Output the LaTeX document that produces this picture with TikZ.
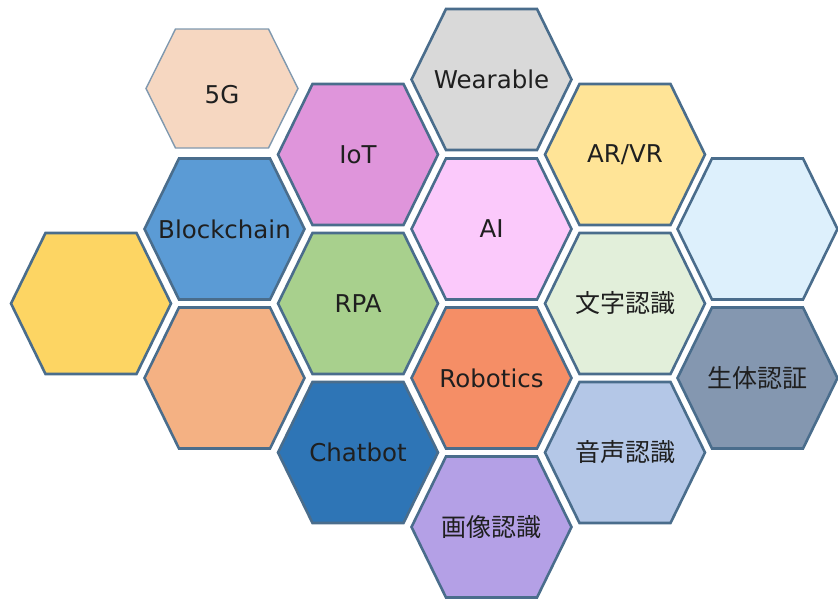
\documentclass[tikz,border=0pt]{standalone}
\usepackage{fontspec}
\setmainfont{DejaVu Sans}
\newfontfamily\jpfont{Noto Sans CJK JP}

\definecolor{hexline}{HTML}{4A6D8C}
\definecolor{fiveg}{HTML}{F6D7C1}
\definecolor{iot}{HTML}{DF95DB}
\definecolor{wear}{HTML}{D9D9D9}
\definecolor{arvr}{HTML}{FFE497}
\definecolor{skyblue}{HTML}{DDF0FC}
\definecolor{blockc}{HTML}{5B9BD5}
\definecolor{ai}{HTML}{FBC9FB}
\definecolor{sunny}{HTML}{FDD563}
\definecolor{rpa}{HTML}{A8D08D}
\definecolor{moji}{HTML}{E2EFDA}
\definecolor{peach}{HTML}{F4B183}
\definecolor{robo}{HTML}{F58E66}
\definecolor{seitai}{HTML}{8497B0}
\definecolor{chat}{HTML}{2E75B6}
\definecolor{onsei}{HTML}{B4C7E7}
\definecolor{gazou}{HTML}{B4A0E6}

\begin{document}
\begin{tikzpicture}[
    x=1pt, y=-1pt,
    hexcell/.style={draw=hexline, line width=2.6pt, line join=miter},
    smallcell/.style={draw=hexline!70, line width=1.4pt, line join=miter},
    celltext/.style={font=\fontsize{24.5}{28}\selectfont, text=black!88},
    jptext/.style={font=\fontsize{25}{28}\selectfont\jpfont, text=black!88},
]
\useasboundingbox (0,0) rectangle (838,598);

% the small one on top
\draw[smallcell, fill=fiveg, shift={(222,88.5)}]
  (-76,0) -- (-46.5,-59.5) -- (46.5,-59.5) -- (76,0) -- (46.5,59.5) -- (-46.5,59.5) -- cycle;
\node[celltext] (fiveg) at (222,95) {5G};

% honeycomb
\foreach \x/\y/\c/\n/\s/\t in {
  91/303.5/sunny/left/celltext/{},
  224.5/229/blockc/blockchain/celltext/Blockchain,
  224.5/378/peach/lower/celltext/{},
  358/154.5/iot/iot/celltext/IoT,
  358/303.5/rpa/rpa/celltext/RPA,
  358/452.5/chat/chatbot/celltext/Chatbot,
  491.5/79.5/wear/wearable/celltext/Wearable,
  491.5/229/ai/ai/celltext/AI,
  491.5/378/robo/robotics/celltext/Robotics,
  491.5/527/gazou/gazou/jptext/画像認識,
  625/154.5/arvr/arvr/celltext/{AR/VR},
  625/303.5/moji/moji/jptext/文字認識,
  625/452.5/onsei/onsei/jptext/音声認識,
  757.5/229/skyblue/right/celltext/{},
  757.5/378/seitai/seitai/jptext/生体認証}{
  \draw[hexcell, fill=\c, shift={(\x,\y)}]
    (-80,0) -- (-45.5,-70.5) -- (45.5,-70.5) -- (80,0) -- (45.5,70.5) -- (-45.5,70.5) -- cycle;
  \node[\s] (\n) at (\x,\y) {\t};
}

\end{tikzpicture}
\end{document}
